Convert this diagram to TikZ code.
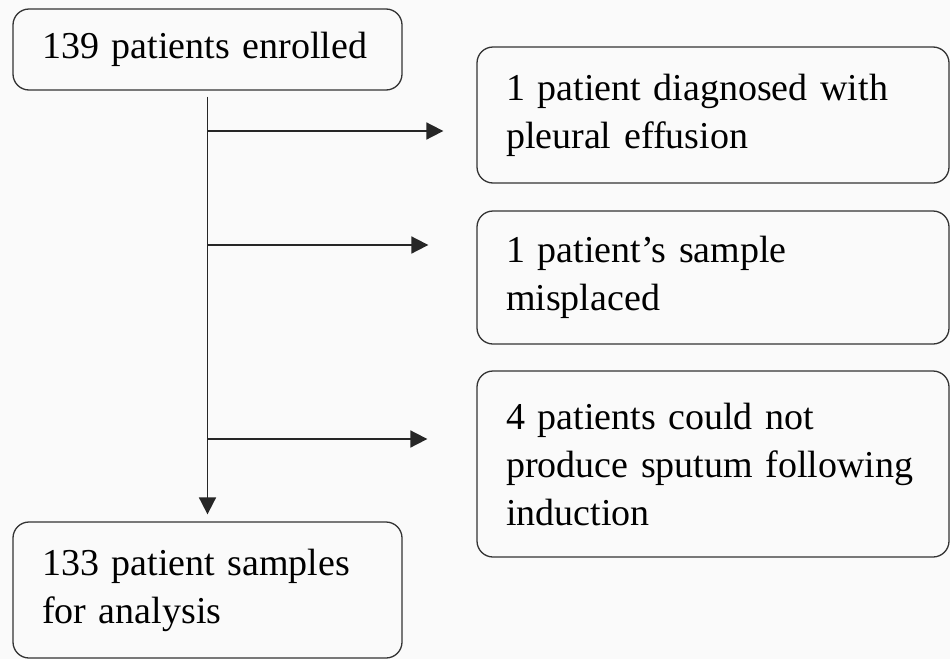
\documentclass[tikz,border=0pt]{standalone}
\usepackage{fontspec}
\setmainfont{Liberation Serif}
\usetikzlibrary{arrows.meta, positioning}

\begin{document}
\begin{tikzpicture}[
    x=1pt, y=-1pt,
    flow/.style={
        line width=1.8pt,
        draw=black!85,
        -{Triangle[length=17pt, width=17pt]},
    },
    stage/.style={
        rectangle,
        rounded corners=16pt,
        draw=black!80,
        line width=1.3pt,
        inner xsep=29pt,
        inner ysep=0pt,
        align=left,
        font=\fontsize{38}{48}\selectfont,
    },
    leftbox/.style={
        stage,
        text width=331pt,
    },
    rightbox/.style={
        stage,
        text width=414pt,
    }
]
    % Canvas
    \useasboundingbox[fill=black!2] (0,0) rectangle (950,659);

    % Main column
    \node[leftbox, minimum height=81pt] (enrolled) at (207.5,49.5) {139 patients enrolled};
    \node[leftbox, minimum height=136pt] (analysis) at (207.5,590) {133 patient samples\\for analysis};

    % Exclusions
    \node[rightbox, minimum height=136pt] (effusion) at (713,115) {1 patient diagnosed with\\pleural effusion};
    \node[rightbox, minimum height=133pt] (misplaced) at (713,277.5) {1 patient’s sample\\misplaced};
    \node[rightbox, minimum height=186pt] (sputum) at (713,464) {4 patients could not\\produce sputum following\\induction};

    % Branch points
    \coordinate (branch1) at (207.5,131);
    \coordinate (branch2) at (207.5,245);
    \coordinate (branch3) at (207.5,439);

    % Arrows
    \draw[flow, shorten <=6pt, shorten >=7pt] (enrolled) -- (analysis);
    \draw[flow, shorten >=33pt] (branch1) -- (branch1 -| effusion.west);
    \draw[flow, shorten >=48pt] (branch2) -- (branch2 -| misplaced.west);
    \draw[flow, shorten >=49pt] (branch3) -- (branch3 -| sputum.west);
\end{tikzpicture}
\end{document}
